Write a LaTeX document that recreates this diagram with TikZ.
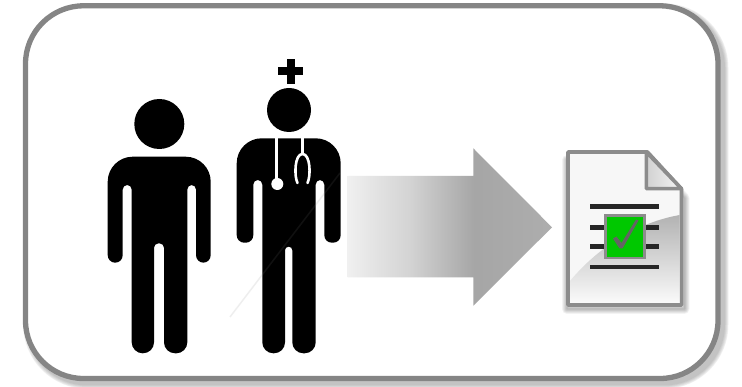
\documentclass[tikz,border=0pt]{standalone}
\usetikzlibrary{positioning}
\definecolor{framegray}{RGB}{133, 133, 133}
\definecolor{pagegray}{RGB}{140, 140, 140}
\definecolor{checkgray}{RGB}{100, 100, 100}
\definecolor{okgreen}{RGB}{0, 200, 0}
\pgfdeclarehorizontalshading{arrowfade}{100bp}{
    color(0bp)=(black!6); color(25bp)=(black!6); color(40bp)=(black!17);
    color(56bp)=(black!35); color(75bp)=(black!32); color(100bp)=(black!32)}
\tikzset{
    framebox/.style={draw=framegray, line width=5.3pt, fill=white, rounded corners=58pt},
    figure/.style={fill=black},
    steth/.style={draw=white, line width=2.6pt, line cap=round},
    pageline/.style={draw=black!85, line width=4.4pt},
    softshadow/.style={draw=black, line width=#1, opacity=0.045, line join=round},
}
\begin{document}
\begin{tikzpicture}[x=1pt, y=-1pt]
    \useasboundingbox (0,0) rectangle (742,387);

    % outer frame
    \foreach \w in {6,7.5,9,10.5,12,13} {
        \draw[softshadow=\w pt, rounded corners=58pt] (29.5,9.8) rectangle (722,382.5);
    }
    \draw[framebox] (25.5,5.8) rectangle (718,378.5);

    % patient
    \fill[figure] (159.3,124) circle (25);
    \fill[figure, rounded corners=25pt] (159,156.7) -- (210.7,156.7)
        [rounded corners=7.5pt] -- (210.7,262.7) -- (196,262.7)
        [rounded corners=4.5pt] -- (196,185) -- (187.3,185)
        [rounded corners=11pt] -- (187.3,353.3) -- (164,353.3)
        [rounded corners=4.5pt] -- (164,243.3) -- (154,243.3)
        [rounded corners=11pt] -- (154,353.3) -- (131.7,353.3)
        [rounded corners=4.5pt] -- (131.7,185) -- (122.7,185)
        [rounded corners=7.5pt] -- (122.7,262.7) -- (107.7,262.7)
        [rounded corners=25pt] -- (107.7,156.7) -- cycle;

    % doctor
    \fill[figure] (289,110) circle (22);
    \fill[figure] (286.7,59.3) rectangle (295,84);
    \fill[figure] (278.3,67.3) rectangle (303.3,75.3);
    \fill[figure, rounded corners=25pt] (289,138.3) -- (340.7,138.3)
        [rounded corners=7.5pt] -- (340.7,242.7) -- (324.3,242.7)
        [rounded corners=4.5pt] -- (324.3,180) -- (315.7,180)
        [rounded corners=11pt] -- (315.7,353.3) -- (292.3,353.3)
        [rounded corners=3.5pt] -- (292.3,246.7) -- (285,246.7)
        [rounded corners=11pt] -- (285,353.3) -- (262.3,353.3)
        [rounded corners=4.5pt] -- (262.3,180) -- (253.3,180)
        [rounded corners=7.5pt] -- (253.3,242.7) -- (236.7,242.7)
        [rounded corners=25pt] -- (236.7,138.3) -- cycle;
    \draw[steth, line cap=butt] (276.7,138.3) -- (276.7,180);
    \fill[white] (277.3,184) circle (6);
    \draw[steth, line cap=butt] (302.5,138.3) -- (302.5,154);
    \draw[steth] (297.5,183) .. controls (294,176) and (294.5,154) .. (302.5,154)
        .. controls (310.5,154) and (311,176) .. (307.5,183);
    \draw[gray, opacity=0.13, line width=1.5pt] (230,317) -- (340,173);

    % arrow
    \shade[shading=arrowfade] (347.7,176) -- (473.3,176) -- (473.3,148.3) -- (552,227.3)
        -- (473.3,305.7) -- (473.3,277.3) -- (347.7,277.3) -- cycle;

    % document
    \foreach \w in {1,2.5,4,5.5,7,8.5,10} {
        \draw[softshadow=\w pt] (567,160) -- (650,160) -- (684.5,198) -- (684.5,309) -- (567,309) -- cycle;
    }
    \filldraw[draw=pagegray, line width=3.6pt, fill=black!3, line join=round]
        (568,152) -- (647.5,152) -- (681.5,189) -- (681.5,305) -- (568,305) -- cycle;
    \shade[top color=black!30, bottom color=black!2] (570,281) .. controls (600,245) and (640,222)
        .. (679.7,215) -- (679.7,303) -- (570,303) -- cycle;
    \shade[left color=black!18, right color=black!4, draw=pagegray, line width=3.6pt, line join=round]
        (646.3,152) -- (646.3,188.7) -- (681.5,188.7) -- cycle;
    \draw[pageline] (590,206.7) -- (659.3,206.7);
    \draw[pageline] (590,227.7) -- (659.3,227.7);
    \draw[pageline] (590,246.7) -- (659.3,246.7);
    \draw[pageline] (590,267.3) -- (659.3,267.3);
    \filldraw[draw=pagegray, line width=2.6pt, fill=okgreen] (605.5,215.5) rectangle (644.5,258);
    \fill[checkgray] (613,238.5) -- (616.5,236.5) -- (621.5,243) -- (636,219.5) -- (638.5,220.5) -- (622.5,248.5) -- (619.5,248.5) -- cycle;
\end{tikzpicture}
\end{document}
